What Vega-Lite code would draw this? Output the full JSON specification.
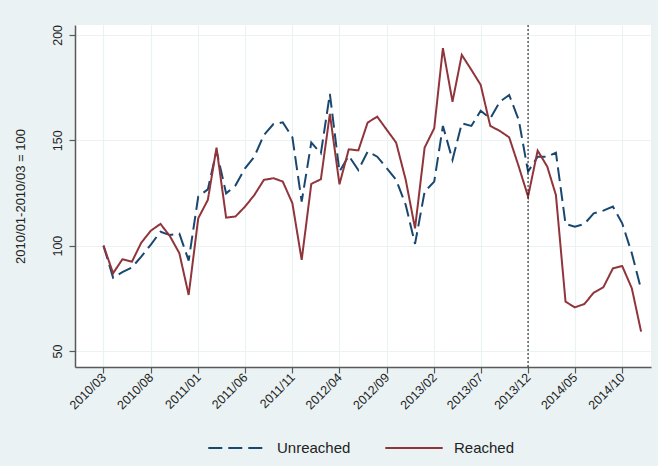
{
  "$schema": "https://vega.github.io/schema/vega-lite/v6.json",
  "width": 576,
  "height": 342,
  "autosize": {"type": "none"},
  "padding": {"left": 75, "top": 25, "right": 7, "bottom": 99},
  "background": "#eaf2f3",
  "config": {
    "view": {"fill": "white", "stroke": null},
    "font": "Liberation Sans",
    "axis": {
      "domainColor": "#5a5a5a",
      "domainWidth": 1.5,
      "tickColor": "#5a5a5a",
      "tickWidth": 1.2,
      "tickSize": 6,
      "gridColor": "#eaf2f3",
      "gridWidth": 1.2,
      "labelColor": "#222",
      "titleColor": "#222",
      "labelFont": "Liberation Sans",
      "titleFont": "Liberation Sans"
    },
    "legend": {
      "title": null,
      "orient": "none",
      "legendX": 132,
      "legendY": 393,
      "direction": "horizontal",
      "symbolType": "stroke",
      "symbolSize": 3300,
      "symbolStrokeWidth": 2,
      "labelFontSize": 15,
      "labelColor": "#222",
      "labelOffset": 10,
      "columnPadding": 30
    }
  },
  "datasets": {
    "series": [
      {"date": "2010-03-01", "group": "Unreached", "value": 100},
      {"date": "2010-04-01", "group": "Unreached", "value": 84.8},
      {"date": "2010-05-01", "group": "Unreached", "value": 87.4},
      {"date": "2010-06-01", "group": "Unreached", "value": 89.7},
      {"date": "2010-07-01", "group": "Unreached", "value": 94.8},
      {"date": "2010-08-01", "group": "Unreached", "value": 100.5},
      {"date": "2010-09-01", "group": "Unreached", "value": 106.6},
      {"date": "2010-10-01", "group": "Unreached", "value": 105},
      {"date": "2010-11-01", "group": "Unreached", "value": 105.7},
      {"date": "2010-12-01", "group": "Unreached", "value": 92.9},
      {"date": "2011-01-01", "group": "Unreached", "value": 123.3},
      {"date": "2011-02-01", "group": "Unreached", "value": 126.7},
      {"date": "2011-03-01", "group": "Unreached", "value": 145},
      {"date": "2011-04-01", "group": "Unreached", "value": 124.8},
      {"date": "2011-05-01", "group": "Unreached", "value": 128.5},
      {"date": "2011-06-01", "group": "Unreached", "value": 136.7},
      {"date": "2011-07-01", "group": "Unreached", "value": 142.2},
      {"date": "2011-08-01", "group": "Unreached", "value": 152.5},
      {"date": "2011-09-01", "group": "Unreached", "value": 157.7},
      {"date": "2011-10-01", "group": "Unreached", "value": 158.5},
      {"date": "2011-11-01", "group": "Unreached", "value": 151.4},
      {"date": "2011-12-01", "group": "Unreached", "value": 120.9},
      {"date": "2012-01-01", "group": "Unreached", "value": 148.9},
      {"date": "2012-02-01", "group": "Unreached", "value": 143.8},
      {"date": "2012-03-01", "group": "Unreached", "value": 172},
      {"date": "2012-04-01", "group": "Unreached", "value": 135.1},
      {"date": "2012-05-01", "group": "Unreached", "value": 142.6},
      {"date": "2012-06-01", "group": "Unreached", "value": 135.9},
      {"date": "2012-07-01", "group": "Unreached", "value": 144.6},
      {"date": "2012-08-01", "group": "Unreached", "value": 142.2},
      {"date": "2012-09-01", "group": "Unreached", "value": 136.7},
      {"date": "2012-10-01", "group": "Unreached", "value": 131.2},
      {"date": "2012-11-01", "group": "Unreached", "value": 119.3},
      {"date": "2012-12-01", "group": "Unreached", "value": 100.8},
      {"date": "2013-01-01", "group": "Unreached", "value": 125.6},
      {"date": "2013-02-01", "group": "Unreached", "value": 130.4},
      {"date": "2013-03-01", "group": "Unreached", "value": 156.8},
      {"date": "2013-04-01", "group": "Unreached", "value": 140.7},
      {"date": "2013-05-01", "group": "Unreached", "value": 158},
      {"date": "2013-06-01", "group": "Unreached", "value": 156.8},
      {"date": "2013-07-01", "group": "Unreached", "value": 164},
      {"date": "2013-08-01", "group": "Unreached", "value": 160.4},
      {"date": "2013-09-01", "group": "Unreached", "value": 168.3},
      {"date": "2013-10-01", "group": "Unreached", "value": 171.5},
      {"date": "2013-11-01", "group": "Unreached", "value": 159.6},
      {"date": "2013-12-01", "group": "Unreached", "value": 135.1},
      {"date": "2014-01-01", "group": "Unreached", "value": 142.2},
      {"date": "2014-02-01", "group": "Unreached", "value": 142.2},
      {"date": "2014-03-01", "group": "Unreached", "value": 144.1},
      {"date": "2014-04-01", "group": "Unreached", "value": 110.3},
      {"date": "2014-05-01", "group": "Unreached", "value": 109},
      {"date": "2014-06-01", "group": "Unreached", "value": 110.3},
      {"date": "2014-07-01", "group": "Unreached", "value": 115.3},
      {"date": "2014-08-01", "group": "Unreached", "value": 116.6},
      {"date": "2014-09-01", "group": "Unreached", "value": 118.5},
      {"date": "2014-10-01", "group": "Unreached", "value": 110.6},
      {"date": "2014-11-01", "group": "Unreached", "value": 96.4},
      {"date": "2014-12-01", "group": "Unreached", "value": 79.3},
      {"date": "2010-03-01", "group": "Reached", "value": 100},
      {"date": "2010-04-01", "group": "Reached", "value": 86.9},
      {"date": "2010-05-01", "group": "Reached", "value": 93.5},
      {"date": "2010-06-01", "group": "Reached", "value": 92.4},
      {"date": "2010-07-01", "group": "Reached", "value": 101.4},
      {"date": "2010-08-01", "group": "Reached", "value": 107.1},
      {"date": "2010-09-01", "group": "Reached", "value": 110.3},
      {"date": "2010-10-01", "group": "Reached", "value": 104.6},
      {"date": "2010-11-01", "group": "Reached", "value": 96.4},
      {"date": "2010-12-01", "group": "Reached", "value": 76.6},
      {"date": "2011-01-01", "group": "Reached", "value": 113},
      {"date": "2011-02-01", "group": "Reached", "value": 121.7},
      {"date": "2011-03-01", "group": "Reached", "value": 146.5},
      {"date": "2011-04-01", "group": "Reached", "value": 113.3},
      {"date": "2011-05-01", "group": "Reached", "value": 113.8},
      {"date": "2011-06-01", "group": "Reached", "value": 118.5},
      {"date": "2011-07-01", "group": "Reached", "value": 124},
      {"date": "2011-08-01", "group": "Reached", "value": 131.2},
      {"date": "2011-09-01", "group": "Reached", "value": 132},
      {"date": "2011-10-01", "group": "Reached", "value": 130.4},
      {"date": "2011-11-01", "group": "Reached", "value": 120.1},
      {"date": "2011-12-01", "group": "Reached", "value": 93.2},
      {"date": "2012-01-01", "group": "Reached", "value": 129.3},
      {"date": "2012-02-01", "group": "Reached", "value": 131.5},
      {"date": "2012-03-01", "group": "Reached", "value": 162.5},
      {"date": "2012-04-01", "group": "Reached", "value": 129.1},
      {"date": "2012-05-01", "group": "Reached", "value": 145.7},
      {"date": "2012-06-01", "group": "Reached", "value": 145.2},
      {"date": "2012-07-01", "group": "Reached", "value": 158.4},
      {"date": "2012-08-01", "group": "Reached", "value": 161.2},
      {"date": "2012-09-01", "group": "Reached", "value": 154.9},
      {"date": "2012-10-01", "group": "Reached", "value": 148.9},
      {"date": "2012-11-01", "group": "Reached", "value": 131.2},
      {"date": "2012-12-01", "group": "Reached", "value": 108.2},
      {"date": "2013-01-01", "group": "Reached", "value": 146.5},
      {"date": "2013-02-01", "group": "Reached", "value": 155.7},
      {"date": "2013-03-01", "group": "Reached", "value": 193.7},
      {"date": "2013-04-01", "group": "Reached", "value": 168.3},
      {"date": "2013-05-01", "group": "Reached", "value": 190.5},
      {"date": "2013-06-01", "group": "Reached", "value": 183.4},
      {"date": "2013-07-01", "group": "Reached", "value": 176.3},
      {"date": "2013-08-01", "group": "Reached", "value": 156.8},
      {"date": "2013-09-01", "group": "Reached", "value": 154.4},
      {"date": "2013-10-01", "group": "Reached", "value": 151.4},
      {"date": "2013-11-01", "group": "Reached", "value": 137.5},
      {"date": "2013-12-01", "group": "Reached", "value": 123.3},
      {"date": "2014-01-01", "group": "Reached", "value": 145.1},
      {"date": "2014-02-01", "group": "Reached", "value": 137.5},
      {"date": "2014-03-01", "group": "Reached", "value": 124},
      {"date": "2014-04-01", "group": "Reached", "value": 73.4},
      {"date": "2014-05-01", "group": "Reached", "value": 70.7},
      {"date": "2014-06-01", "group": "Reached", "value": 72.3},
      {"date": "2014-07-01", "group": "Reached", "value": 77.7},
      {"date": "2014-08-01", "group": "Reached", "value": 80.2},
      {"date": "2014-09-01", "group": "Reached", "value": 89.2},
      {"date": "2014-10-01", "group": "Reached", "value": 90.3},
      {"date": "2014-11-01", "group": "Reached", "value": 79.8},
      {"date": "2014-12-01", "group": "Reached", "value": 59.2}
    ],
    "marker": [{"date": "2013-12-01"}]
  },
  "layer": [
    {
      "data": {"name": "series"},
      "mark": {"type": "line", "strokeWidth": 2},
      "encoding": {
        "x": {
          "field": "date",
          "type": "temporal",
          "scale": {
            "type": "utc",
            "domain": [
              {"year": 2009, "month": 11, "date": 29, "utc": true},
              {"year": 2015, "month": 1, "date": 2, "utc": true}
            ]
          },
          "axis": {
            "title": null,
            "format": "%Y/%m",
            "values": [
              {"year": 2010, "month": 3, "date": 1, "utc": true},
              {"year": 2010, "month": 8, "date": 1, "utc": true},
              {"year": 2011, "month": 1, "date": 1, "utc": true},
              {"year": 2011, "month": 6, "date": 1, "utc": true},
              {"year": 2011, "month": 11, "date": 1, "utc": true},
              {"year": 2012, "month": 4, "date": 1, "utc": true},
              {"year": 2012, "month": 9, "date": 1, "utc": true},
              {"year": 2013, "month": 2, "date": 1, "utc": true},
              {"year": 2013, "month": 7, "date": 1, "utc": true},
              {"year": 2013, "month": 12, "date": 1, "utc": true},
              {"year": 2014, "month": 5, "date": 1, "utc": true},
              {"year": 2014, "month": 10, "date": 1, "utc": true}
            ],
            "labelAngle": -45,
            "labelAlign": "right",
            "labelBaseline": "middle",
            "labelFontSize": 12.5,
            "labelPadding": 2,
            "labelOverlap": false,
            "labelFlush": false,
            "grid": true
          }
        },
        "y": {
          "field": "value",
          "type": "quantitative",
          "scale": {"domain": [42.4, 204.7], "nice": false, "zero": false},
          "axis": {
            "title": "2010/01-2010/03 = 100",
            "titleFontSize": 13,
            "titleFontWeight": "normal",
            "titlePadding": 24,
            "values": [50, 100, 150, 200],
            "labelAngle": -90,
            "labelAlign": "center",
            "labelBaseline": "bottom",
            "labelFontSize": 12.5,
            "labelPadding": 5,
            "grid": true
          }
        },
        "color": {
          "field": "group",
          "type": "nominal",
          "scale": {"domain": ["Unreached", "Reached"], "range": ["#1a476f", "#90353b"]}
        },
        "strokeDash": {
          "field": "group",
          "type": "nominal",
          "scale": {"domain": ["Unreached", "Reached"], "range": [[14, 6], [1, 0]]}
        }
      }
    },
    {
      "data": {"name": "marker"},
      "mark": {"type": "rule", "color": "#111", "strokeWidth": 1, "strokeDash": [2, 2]},
      "encoding": {
        "x": {"field": "date", "type": "temporal"}
      }
    }
  ]
}
